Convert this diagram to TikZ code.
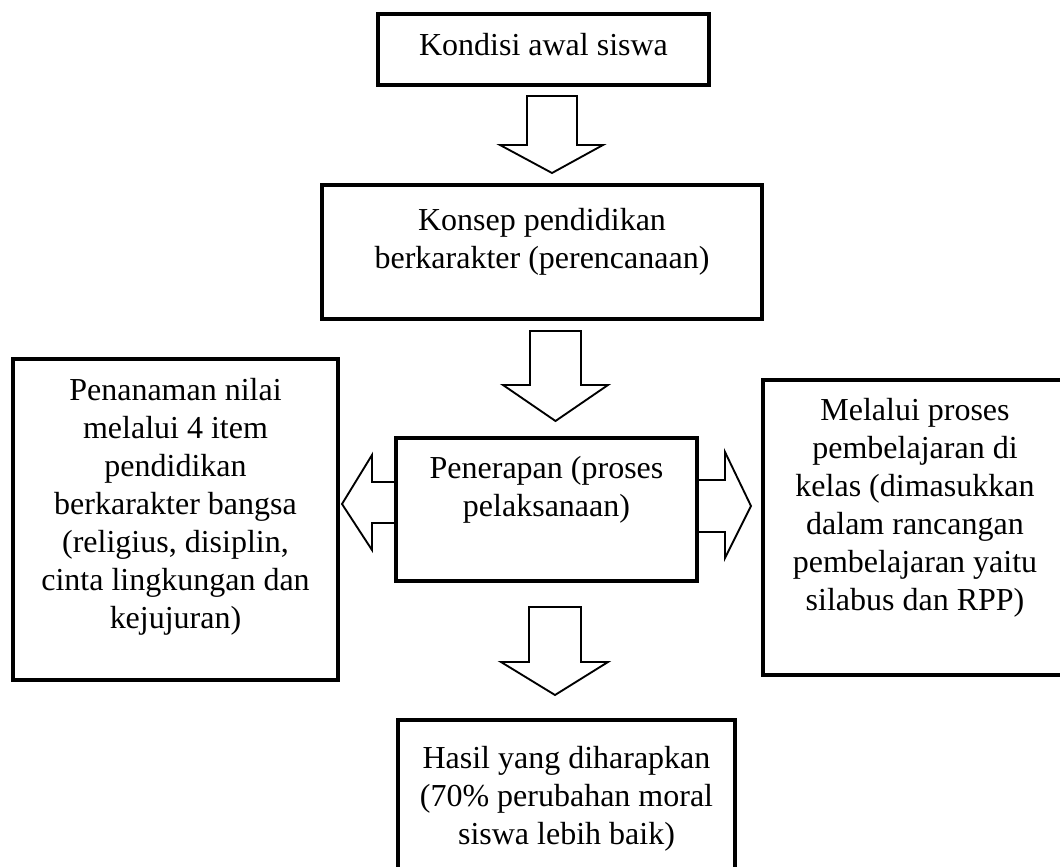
\documentclass[tikz,border=0pt]{standalone}
\usepackage{fontspec}
\setmainfont{Liberation Serif}
\newcommand{\pxu}{0.75pt}
\tikzset{
  flow box/.style={
    draw,
    line width=3pt,
    anchor=north west,
    inner sep=0pt,
  },
  flow text/.style={
    anchor=north,
    align=center,
    inner sep=0pt,
    font=\fontsize{24}{28.5}\selectfont,
  },
  hollow arrow/.style={
    draw,
    line width=1.4pt,
    line join=miter,
    fill=white,
  },
}

\begin{document}
\begin{tikzpicture}[x=0.75pt,y=-0.75pt]
  \useasboundingbox (0,0) rectangle (1060,867);
  \clip (0,0) rectangle (1060,867);

  % block arrows
  \draw[hollow arrow] (527,96) -- (577,96) -- (577,145) -- (603,145) -- (552,173) -- (500,145) -- (527,145) -- cycle;
  \draw[hollow arrow] (530,331) -- (581,331) -- (581,385) -- (608,385) -- (555.5,421) -- (503,385) -- (530,385) -- cycle;
  \draw[hollow arrow] (529,607) -- (581,607) -- (581,662) -- (608,662) -- (555,695) -- (501,662) -- (529,662) -- cycle;
  \draw[hollow arrow] (396,482) -- (372,482) -- (372,455) -- (342,504) -- (372,550) -- (372,523) -- (396,523) -- cycle;
  \draw[hollow arrow] (697,480) -- (725,480) -- (725,452) -- (751,506) -- (725,558) -- (725,532) -- (697,532) -- cycle;

  % boxes
  \node[flow box, minimum width=331*\pxu, minimum height=71*\pxu]  (kondisi)   at (376,12)  {};
  \node[flow box, minimum width=440*\pxu, minimum height=134*\pxu] (konsep)    at (320,183) {};
  \node[flow box, minimum width=301*\pxu, minimum height=143*\pxu] (penerapan) at (394,436) {};
  \node[flow box, minimum width=325*\pxu, minimum height=321*\pxu] (penanaman) at (11,357)  {};
  \node[flow box, minimum width=304*\pxu, minimum height=295*\pxu] (melalui)   at (761,378) {};
  \node[flow box, minimum width=337*\pxu, minimum height=160*\pxu] (hasil)     at (396,718) {};

  % texts
  \node[flow text] (kondisi text)   at ([yshift=-21*\pxu]kondisi.north)   {Kondisi awal siswa};
  \node[flow text] (konsep text)    at ([yshift=-25*\pxu]konsep.north)    {Konsep pendidikan\\berkarakter (perencanaan)};
  \node[flow text] (penerapan text) at ([yshift=-20*\pxu]penerapan.north) {Penerapan (proses\\pelaksanaan)};
  \node[flow text] (penanaman text) at ([yshift=-21*\pxu]penanaman.north) {Penanaman nilai\\melalui 4 item\\pendidikan\\berkarakter bangsa\\(religius, disiplin,\\cinta lingkungan dan\\kejujuran)};
  \node[flow text] (melalui text)   at ([yshift=-20*\pxu]melalui.north)   {Melalui proses\\pembelajaran di\\kelas (dimasukkan\\dalam rancangan\\pembelajaran yaitu\\silabus dan RPP)};
  \node[flow text] (hasil text)     at ([yshift=-28*\pxu]hasil.north)     {Hasil yang diharapkan\\(70\% perubahan moral\\siswa lebih baik)};
\end{tikzpicture}
\end{document}
